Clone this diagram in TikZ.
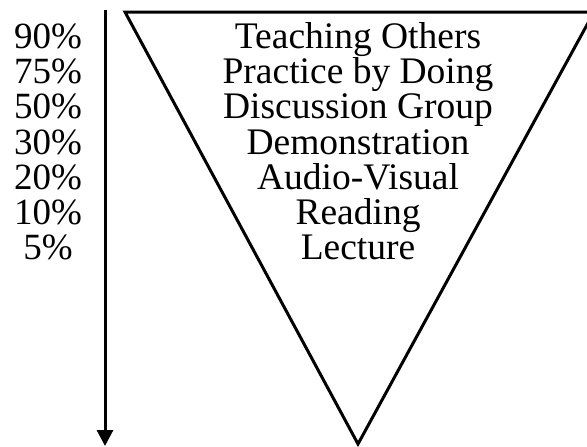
\documentclass[tikz,border=0pt]{standalone}
\usepackage{fontspec}
\setmainfont{Liberation Serif}
\usetikzlibrary{arrows.meta}
\begin{document}
\begin{tikzpicture}[x=1pt,y=-1pt,
  lbl/.style={anchor=base,inner sep=0pt,font=\fontsize{37.5}{37.5}\selectfont},
  pct/.style={anchor=base,inner sep=0pt,font=\fontsize{37}{37}\selectfont}]
\useasboundingbox (0,0) rectangle (587,447);
\clip (0,0) rectangle (587,447);
\coordinate (tl) at (125,12);
\coordinate (tr) at (594,12);
\coordinate (ap) at (358,444);
\draw[line width=3pt,line join=miter] (tl) -- (tr) -- (ap) -- cycle;
\coordinate (atop) at (105,10);
\coordinate (abot) at (105,446);
\draw[line width=3pt,-{Triangle[length=16pt,width=16pt]}] (atop) -- (abot);
\foreach \t/\p [count=\i from 0] in {Teaching Others/90\%,Practice by Doing/75\%,Discussion Group/50\%,Demonstration/30\%,Audio-Visual/20\%,Reading/10\%,Lecture/5\%}{
  \node[lbl] (t\i) at (358,48.5+35.2*\i) {\t};
  \node[pct] (p\i) at (48,48.5+35.2*\i) {\p};
}
\end{tikzpicture}
\end{document}
